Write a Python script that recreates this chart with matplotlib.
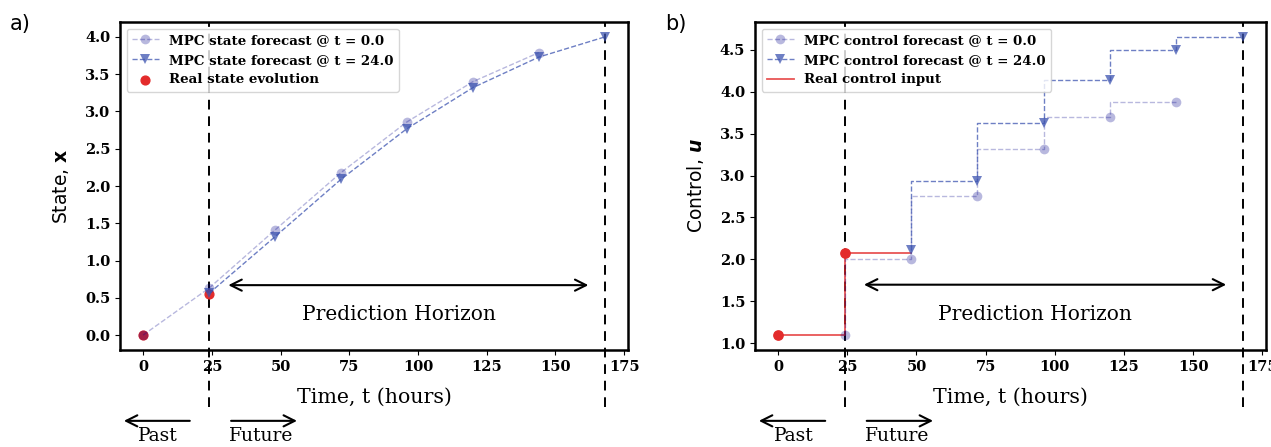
import numpy as np
import matplotlib.pyplot as plt

# state panel (a)
t_state0 = [0, 24, 48, 72, 96, 120, 144]
x_state0 = [0.0, 0.63, 1.41, 2.18, 2.86, 3.40, 3.79]
t_state24 = [24, 48, 72, 96, 120, 144, 168]
x_state24 = [0.56, 1.32, 2.09, 2.77, 3.32, 3.73, 4.0]
t_real = [0, 24]
x_real = [0.0, 0.55]

# control panel (b)
t_ctrl0 = [24, 48, 72, 96, 120, 144]
u_ctrl0 = [1.10, 2.01, 2.76, 3.32, 3.70, 3.88]
t_ctrl24 = [48, 72, 96, 120, 144, 168]
u_ctrl24 = [2.11, 2.94, 3.62, 4.14, 4.49, 4.65]
t_ureal = [0, 24, 48]
u_real = [1.10, 2.08, 2.08]

light = (0.0, 0.0, 0.545, 0.28)
mid = (0.24, 0.33, 0.69, 0.75)
red = '#e32b2b'

serif = 'DejaVu Serif'

fig = plt.figure(figsize=(12.71, 4.47), dpi=100)
ax1 = fig.add_axes([120/1271, 97/447, 508/1271, 328/447])
ax2 = fig.add_axes([755/1271, 97/447, 511/1271, 328/447])


def decorate(ax, ylabel, arrow_y, text_y):
    for s in ax.spines.values():
        s.set_linewidth(1.8)
    for lab in ax.get_xticklabels() + ax.get_yticklabels():
        lab.set_fontfamily(serif)
        lab.set_fontweight('bold')
        lab.set_fontsize(10.5)
    ax.set_xlabel('Time, t (hours)', family=serif, fontsize=14.8, labelpad=10)
    ax.set_ylabel(ylabel, family='DejaVu Sans', fontsize=13.5, labelpad=10)
    tr = ax.get_xaxis_transform()
    for xv in (24, 168):
        ax.plot([xv, xv], [-0.175, 1.0], transform=tr, color='black', lw=1.4,
                ls=(0, (5, 3.5)), clip_on=False, zorder=1)
    ax.annotate('', xy=(30, arrow_y), xytext=(163, arrow_y),
                arrowprops=dict(arrowstyle='<->', color='black', lw=1.5, mutation_scale=20))
    ax.text(93, text_y, 'Prediction Horizon', family=serif, fontsize=14.5,
            ha='center', va='center')
    ax.annotate('', xy=(-8, -0.216), xytext=(18, -0.216), xycoords=tr, textcoords=tr,
                annotation_clip=False,
                arrowprops=dict(arrowstyle='->', color='black', lw=1.5, mutation_scale=20))
    ax.annotate('', xy=(57, -0.216), xytext=(31, -0.216), xycoords=tr, textcoords=tr,
                annotation_clip=False,
                arrowprops=dict(arrowstyle='->', color='black', lw=1.5, mutation_scale=20))
    ax.text(5.5, -0.262, 'Past', transform=tr, family=serif, fontsize=13.5,
            ha='center', va='center', clip_on=False)
    ax.text(43, -0.262, 'Future', transform=tr, family=serif, fontsize=13.5,
            ha='center', va='center', clip_on=False)


legend_font = {'family': serif, 'weight': 'bold', 'size': 9.6}

# panel a
ax1.scatter(t_real, x_real, color=red, s=40, zorder=2, label='Real state evolution')
ax1.plot(t_state0, x_state0, '--o', color=light, lw=1, ms=7, mew=0, zorder=3,
         label='MPC state forecast @ t = 0.0')
ax1.plot(t_state24, x_state24, '--v', color=mid, lw=1, ms=7, mew=0, zorder=3,
         label='MPC state forecast @ t = 24.0')
h, l = ax1.get_legend_handles_labels()
ax1.set_yticks(np.arange(0, 4.01, 0.5))
ax1.set_xticks([0, 25, 50, 75, 100, 125, 150, 175])
ax1.set_xlim(-8.4, 176.4)
ax1.set_ylim(-0.2, 4.2)
decorate(ax1, r'State, $\mathbf{x}$', 0.67, 0.27)
ax1.legend([h[1], h[2], h[0]], [l[1], l[2], l[0]], loc='upper left', prop=legend_font)

# panel b
ax2.plot(t_ctrl0, u_ctrl0, '--o', color=light, lw=1, ms=7, mew=0, drawstyle='steps-pre',
         zorder=3, label='MPC control forecast @ t = 0.0')
ax2.plot(t_ctrl24, u_ctrl24, '--v', color=mid, lw=1, ms=7, mew=0, drawstyle='steps-pre',
         zorder=3, label='MPC control forecast @ t = 24.0')
ax2.plot(t_ureal, u_real, '-', color=red, alpha=0.8, lw=1.3, drawstyle='steps-post',
         zorder=2, label='Real control input')
ax2.scatter(t_ureal[:2], u_real[:2], color=red, s=45, zorder=4)
ax2.set_xticks([0, 25, 50, 75, 100, 125, 150, 175])
ax2.set_yticks(np.arange(1.0, 4.51, 0.5))
ax2.set_xlim(-8.4, 176.4)
ax2.set_ylim(0.9225, 4.8275)
decorate(ax2, r'Control, $\boldsymbol{u}$', 1.70, 1.34)
ax2.legend(loc='upper left', prop=legend_font)

fig.text(10/1271, 1 - 24/447, 'a)', family='DejaVu Sans', fontsize=15, va='center')
fig.text(665/1271, 1 - 24/447, 'b)', family='DejaVu Sans', fontsize=15, va='center')

fig.savefig('out.png', dpi=100)
